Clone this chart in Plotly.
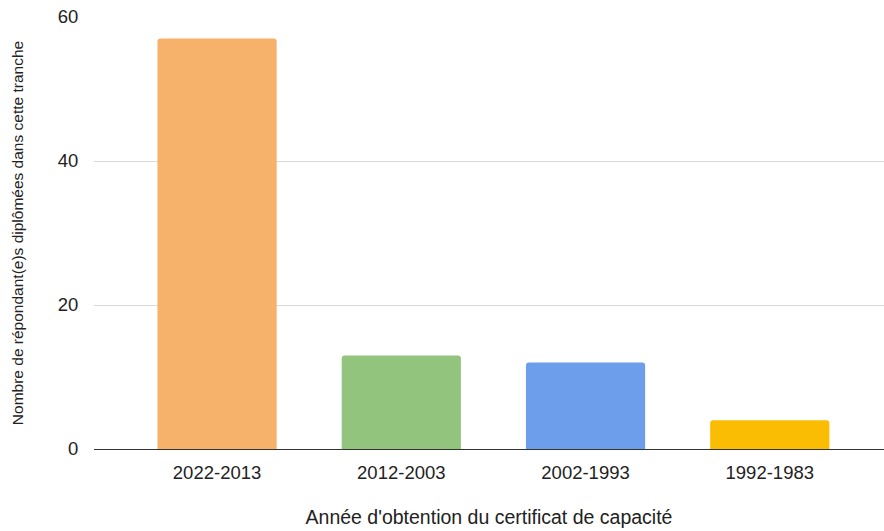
import plotly.graph_objects as go

categories = ["2022-2013", "2012-2003", "2002-1993", "1992-1983"]
values = [57, 13, 12, 4]
colors = ["#F6B26B", "#93C47D", "#6D9EEB", "#FBBC04"]
y_ticks = [0, 20, 40, 60]

fig = go.Figure(go.Bar(
    x=categories, y=values, marker=dict(color=colors, line=dict(width=0)),
    hoverinfo="x+y",
))

font_family = "Liberation Sans, Arial, sans-serif"
fig.update_layout(
    width=884, height=531,
    margin=dict(l=94, r=0, t=17, b=82),
    plot_bgcolor="white", paper_bgcolor="white",
    bargap=0.353,
    barcornerradius=3,
    showlegend=False,
    font=dict(family=font_family, color="#222222"),
    xaxis=dict(
        type="category", range=[-0.668, 3.62],
        showline=True, linecolor="#333333", linewidth=1,
        showgrid=False, tickfont=dict(size=18.5, color="#222222"),
        ticks="outside", ticklen=7, tickcolor="rgba(0,0,0,0)",
        title=dict(text="Année d'obtention du certificat de capacité",
                   font=dict(size=19.5, color="#222222"), standoff=28),
    ),
    yaxis=dict(
        range=[0, 60], tickvals=y_ticks,
        showgrid=True, gridcolor="#d9d9d9", gridwidth=1,
        zeroline=False, showline=False,
        tickfont=dict(size=18.5, color="#222222"),
        ticks="outside", ticklen=11, tickcolor="rgba(0,0,0,0)",
        title=dict(text="Nombre de répondant(e)s diplômées dans cette tranche",
                   font=dict(size=15.5, color="#222222"), standoff=30),
    ),
)

fig.write_html("out.html")
